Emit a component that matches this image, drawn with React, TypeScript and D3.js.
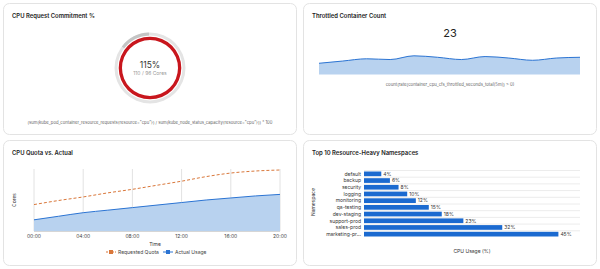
import * as d3 from 'd3';

// CPU request commitment
const requestedCores = 110;
const capacityCores = 96;

// throttled containers (last value = current)
const throttledCounts = [15, 18, 21, 20, 25, 23, 20, 24, 22, 19, 22, 23];

// quota vs actual, every 2 hours
const hours = [0, 2, 4, 6, 8, 10, 12, 14, 16, 18, 20];
const requestedQuota = [52, 60, 67, 75, 82, 90, 98, 107, 114, 118, 120];
const actualUsage = [22, 29, 36, 41, 46, 51, 56, 61, 65, 69, 72];
const hourTicks = [0, 4, 8, 12, 16, 20];

// top namespaces
const namespaces = ['default', 'backup', 'security', 'logging', 'monitoring', 'qa-testing', 'dev-staging', 'support-prod', 'sales-prod', 'marketing-pr...'];
const namespaceUsage = [4, 6, 8, 10, 12, 15, 18, 23, 32, 45];

const FONT = 'Inter, "Open Sans", sans-serif';
const BLUE = '#2b74d3';
const BLUE_FILL = '#b8d2ef';
const ORANGE = '#d9773a';

function Card({ x, y, w, h, title }: { x: number; y: number; w: number; h: number; title: string }) {
  return (
    <g>
      <rect x={x + 0.5} y={y + 0.5} width={w} height={h} rx={6} fill="#fff" stroke="#e3e3e3" />
      <text x={x + 9} y={y + 15} fontSize={5.9} fontWeight={600} fill="#222">{title}</text>
    </g>
  );
}

function Donut() {
  const cx = 150, cy = 68;
  const pct = (requestedCores / capacityCores) * 100;
  const track = d3.arc()({ innerRadius: 32.5, outerRadius: 35.5, startAngle: 0, endAngle: 2 * Math.PI });
  const over = d3.arc()({ innerRadius: 32.5, outerRadius: 35.5, startAngle: -((pct - 100) / 100) * 2 * Math.PI, endAngle: -0.03 });
  const ring = d3.arc()({ innerRadius: 28, outerRadius: 31.3, startAngle: 0, endAngle: 2 * Math.PI });
  return (
    <g transform={`translate(${cx},${cy})`}>
      <path d={track!} fill="#e4e4e4" />
      <path d={over!} fill="#c4c4c4" />
      <path d={ring!} fill="#c8161d" />
      <text y={0} textAnchor="middle" fontSize={8.5} fill="#333">{Math.round(pct)}%</text>
      <text y={7} textAnchor="middle" fontSize={5} fill="#999">{requestedCores} / {capacityCores} Cores</text>
    </g>
  );
}

function Throttled() {
  const x = d3.scaleLinear().domain([0, throttledCounts.length - 1]).range([319, 580]);
  const y = d3.scaleLinear().domain([0, 25]).range([74.5, 55.8]);
  const area = d3.area<number>().x((_, i) => x(i)).y0(y(0)).y1(d => y(d)).curve(d3.curveMonotoneX);
  const line = d3.line<number>().x((_, i) => x(i)).y(d => y(d)).curve(d3.curveMonotoneX);
  return (
    <g>
      <text x={450} y={37} textAnchor="middle" fontSize={11} fill="#222">{throttledCounts[throttledCounts.length - 1]}</text>
      <path d={area(throttledCounts)!} fill={BLUE_FILL} />
      <path d={line(throttledCounts)!} fill="none" stroke={BLUE} strokeWidth={1} />
      <text x={450} y={85.5} textAnchor="middle" fontSize={4.3} fill="#666">count(rate(container_cpu_cfs_throttled_seconds_total[5m]) &gt; 0)</text>
    </g>
  );
}

function QuotaChart() {
  const x = d3.scaleLinear().domain([0, 20]).range([34, 280]);
  const y = d3.scaleLinear().domain([0, 120]).range([231, 170]);
  const area = d3.area<number>().x((_, i) => x(hours[i])).y0(y(0)).y1(d => y(d)).curve(d3.curveMonotoneX);
  const line = d3.line<number>().x((_, i) => x(hours[i])).y(d => y(d)).curve(d3.curveMonotoneX);
  const fmt = (h: number) => `${String(h).padStart(2, '0')}:00`;
  return (
    <g>
      {hourTicks.map(h => (
        <line key={h} x1={x(h)} x2={x(h)} y1={169} y2={231} stroke="#e2e2e2" strokeWidth={1} />
      ))}
      <path d={area(actualUsage)!} fill={BLUE_FILL} />
      <path d={line(actualUsage)!} fill="none" stroke={BLUE} strokeWidth={1} />
      <path d={line(requestedQuota)!} fill="none" stroke={ORANGE} strokeWidth={1} strokeDasharray="3,2" />
      <line x1={34} x2={280} y1={231.5} y2={231.5} stroke="#d6d6d6" />
      {hourTicks.map(h => (
        <text key={h} x={x(h)} y={237.5} textAnchor="middle" fontSize={5} fill="#444">{fmt(h)}</text>
      ))}
      <text x={155} y={245.5} textAnchor="middle" fontSize={5} fill="#333">Time</text>
      <text transform="translate(16,200) rotate(-90)" textAnchor="middle" fontSize={5} fill="#333">Cores</text>
      <g transform="translate(106,252)">
        <line x1={0} x2={10} y1={0} y2={0} stroke={ORANGE} strokeDasharray="2,1" />
        <rect x={3} y={-2} width={4} height={4} fill={ORANGE} />
        <text x={12} y={1.8} fontSize={5} fill="#444">Requested Quota</text>
        <line x1={57} x2={67} y1={0} y2={0} stroke={BLUE} />
        <rect x={60} y={-2} width={4} height={4} fill={BLUE} />
        <text x={69} y={1.8} fontSize={5} fill="#444">Actual Usage</text>
      </g>
    </g>
  );
}

function NamespaceBars() {
  const x = d3.scaleLinear().domain([0, 50]).range([364, 580]);
  const y = d3.scaleBand().domain(namespaces).range([170.5, 237.5]).paddingInner(0.3).paddingOuter(0.15);
  const step = y.step();
  return (
    <g>
      {namespaces.map(n => (
        <line key={n} x1={364} x2={580} y1={(y(n) ?? 0) - step * 0.15} y2={(y(n) ?? 0) - step * 0.15} stroke="#ececec" />
      ))}
      {namespaces.map((n, i) => (
        <g key={n}>
          <rect x={x(0)} y={y(n)} width={x(namespaceUsage[i]) - x(0)} height={y.bandwidth()} fill="#1b6ad0" />
          <text x={361} y={(y(n) ?? 0) + y.bandwidth() / 2 + 1.8} textAnchor="end" fontSize={5} fill="#333">{n}</text>
          <text x={x(namespaceUsage[i]) + 2} y={(y(n) ?? 0) + y.bandwidth() / 2 + 1.8} fontSize={5} fill="#333">{namespaceUsage[i]}%</text>
        </g>
      ))}
      <text transform="translate(315,202) rotate(-90)" textAnchor="middle" fontSize={5} fill="#333">Namespace</text>
      <text x={472} y={253} textAnchor="middle" fontSize={5} fill="#333">CPU Usage (%)</text>
    </g>
  );
}

export default function App() {
  return (
    <svg width={600} height={269} style={{ position: 'absolute', left: 0, top: 0, fontFamily: FONT }}>
      <rect width={600} height={269} fill="#fff" />
      <Card x={3} y={3} w={293} h={131} title="CPU Request Commitment %" />
      <Card x={303} y={3} w={293} h={131} title="Throttled Container Count" />
      <Card x={3} y={140} w={293} h={125} title="CPU Quota vs. Actual" />
      <Card x={303} y={140} w={293} h={125} title="Top 10 Resource-Heavy Namespaces" />
      <Donut />
      <text x={150} y={123.5} textAnchor="middle" fontSize={4.2} fill="#666">
        (sum(kube_pod_container_resource_requests{'{'}resource="cpu"{'}'}) / sum(kube_node_status_capacity{'{'}resource="cpu"{'}'})) * 100
      </text>
      <Throttled />
      <QuotaChart />
      <NamespaceBars />
    </svg>
  );
}
